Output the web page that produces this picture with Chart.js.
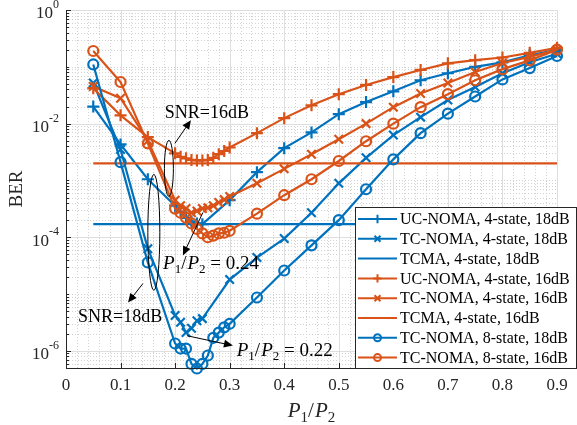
<!DOCTYPE html>
<html>
<head>
<meta charset="utf-8">
<script src="https://cdn.jsdelivr.net/npm/chart.js@4.4.1/dist/chart.umd.min.js"></script>
<style>
html, body { margin: 0; padding: 0; background: #fff; }
</style>
</head>
<body>
<canvas id="berChart" width="577" height="425"></canvas>
<script>
// P1/P2 sample positions
var pUC18 = [0.05, 0.1, 0.15, 0.2, 0.21, 0.22, 0.23, 0.24, 0.25, 0.3, 0.35, 0.4, 0.45, 0.5, 0.55, 0.6, 0.65, 0.7, 0.75, 0.8, 0.85, 0.9];
var pFine = [0.05, 0.1, 0.15, 0.2, 0.21, 0.22, 0.23, 0.24, 0.25, 0.26, 0.27, 0.28, 0.29, 0.3, 0.35, 0.4, 0.45, 0.5, 0.55, 0.6, 0.65, 0.7, 0.75, 0.8, 0.85, 0.9];
var pTCMA = [0.05, 0.9];

// BER values
var berUC18 = [2.0e-2, 4.3e-3, 1.05e-3, 3.6e-4, 2.8e-4, 2.2e-4, 1.9e-4, 1.75e-4, 1.7e-4, 4.5e-4, 1.4e-3, 3.7e-3, 7.0e-3, 1.47e-2, 2.4e-2, 3.7e-2, 5.8e-2, 7.7e-2, 0.1, 0.12, 0.16, 0.2];
var berTC18 = [5.2e-2, 3.5e-3, 6.3e-5, 4.2e-6, 3.2e-6, 2.1e-6, 2.5e-6, 3.4e-6, 3.7e-6, 1.8e-5, 4.4e-5, 9.5e-5, 2.7e-4, 8.9e-4, 2.5e-3, 6.3e-3, 1.3e-2, 2.6e-2, 4.4e-2, 7.7e-2, 0.12, 0.17];
var berTCMA18 = [1.7e-4, 1.7e-4];
var berUC16 = [4.2e-2, 1.4e-2, 5.8e-3, 3.0e-3, 2.6e-3, 2.45e-3, 2.3e-3, 2.25e-3, 2.25e-3, 2.3e-3, 2.5e-3, 2.9e-3, 3.3e-3, 3.8e-3, 6.8e-3, 1.25e-2, 2.1e-2, 3.3e-2, 4.8e-2, 6.6e-2, 8.8e-2, 0.115, 0.131, 0.146, 0.176, 0.216];
var berTC16 = [4.5e-2, 2.8e-2, 5.0e-3, 4.5e-4, 3.6e-4, 3.2e-4, 2.7e-4, 2.9e-4, 3.2e-4, 3.3e-4, 3.6e-4, 4.1e-4, 4.6e-4, 5.2e-4, 8.9e-4, 1.6e-3, 2.9e-3, 5.3e-3, 1.0e-2, 1.95e-2, 3.4e-2, 5.2e-2, 8.1e-2, 0.117, 0.15, 0.2];
var berTCMA16 = [2.0e-3, 2.0e-3];
var berTC8s18 = [0.11, 2.1e-3, 3.6e-5, 1.35e-6, 1.1e-6, 1.1e-6, 5.9e-7, 4.9e-7, 5.9e-7, 8.3e-7, 1.7e-6, 2.1e-6, 2.6e-6, 3.0e-6, 8.7e-6, 2.6e-5, 7.2e-5, 2.0e-4, 7.0e-4, 2.35e-3, 6.8e-3, 1.5e-2, 3.0e-2, 6.0e-2, 9.5e-2, 0.155];
var berTC8s16 = [0.19, 5.4e-2, 4.5e-3, 3.2e-4, 2.7e-4, 2.2e-4, 1.75e-4, 1.4e-4, 1.17e-4, 1.0e-4, 1.07e-4, 1.17e-4, 1.2e-4, 1.3e-4, 2.6e-4, 5.5e-4, 1.05e-3, 2.2e-3, 4.9e-3, 1.0e-2, 1.95e-2, 3.3e-2, 5.8e-2, 9.1e-2, 0.13, 0.2];

var xTicks = [0, 0.1, 0.2, 0.3, 0.4, 0.5, 0.6, 0.7, 0.8, 0.9];
var yTickExps = [0, -2, -4, -6];

var BLUE = '#0072BD';
var ORANGE = '#D95319';
var SERIF = '"Liberation Serif", "Times New Roman", serif';
var INK = '#262626';

var series = [
    { label: 'UC-NOMA, 4-state, 18dB', xs: pUC18, ys: berUC18, color: BLUE, marker: 'cross', r: 6 },
    { label: 'TC-NOMA, 4-state, 18dB', xs: pUC18, ys: berTC18, color: BLUE, marker: 'crossRot', r: 6 },
    { label: 'TCMA, 4-state, 18dB', xs: pTCMA, ys: berTCMA18, color: BLUE, marker: null, r: 0 },
    { label: 'UC-NOMA, 4-state, 16dB', xs: pFine, ys: berUC16, color: ORANGE, marker: 'cross', r: 6 },
    { label: 'TC-NOMA, 4-state, 16dB', xs: pFine, ys: berTC16, color: ORANGE, marker: 'crossRot', r: 6 },
    { label: 'TCMA, 4-state, 16dB', xs: pTCMA, ys: berTCMA16, color: ORANGE, marker: null, r: 0 },
    { label: 'TC-NOMA, 8-state, 18dB', xs: pFine, ys: berTC8s18, color: BLUE, marker: 'circle', r: 5 },
    { label: 'TC-NOMA, 8-state, 16dB', xs: pFine, ys: berTC8s16, color: ORANGE, marker: 'circle', r: 5 }
];

function drawMarker(ctx, style, x, y, r, color) {
    if (!style) return;
    ctx.save();
    ctx.strokeStyle = color;
    ctx.lineWidth = 2;
    ctx.beginPath();
    if (style === 'cross') {
        ctx.moveTo(x - r, y); ctx.lineTo(x + r, y);
        ctx.moveTo(x, y - r); ctx.lineTo(x, y + r);
    } else if (style === 'crossRot') {
        var d = r * 0.7071;
        ctx.moveTo(x - d, y - d); ctx.lineTo(x + d, y + d);
        ctx.moveTo(x - d, y + d); ctx.lineTo(x + d, y - d);
    } else {
        ctx.arc(x, y, r, 0, Math.PI * 2);
    }
    ctx.stroke();
    ctx.restore();
}

function arrow(ctx, x1, y1, x2, y2) {
    var ang = Math.atan2(y2 - y1, x2 - x1);
    var len = 9, w = 4;
    ctx.beginPath();
    ctx.moveTo(x1, y1);
    ctx.lineTo(x2 - Math.cos(ang) * len * 0.8, y2 - Math.sin(ang) * len * 0.8);
    ctx.stroke();
    ctx.beginPath();
    ctx.moveTo(x2, y2);
    ctx.lineTo(x2 - Math.cos(ang) * len - Math.sin(ang) * w, y2 - Math.sin(ang) * len + Math.cos(ang) * w);
    ctx.lineTo(x2 - Math.cos(ang) * len + Math.sin(ang) * w, y2 - Math.sin(ang) * len - Math.cos(ang) * w);
    ctx.closePath();
    ctx.fill();
}

// "P1/P2" with subscripts, optional tail text; returns width
function ratioText(ctx, x, yMid, size, tail, doDraw) {
    var subSize = Math.round(size * 0.7);
    var base = yMid + size * 0.33;
    var parts = [
        ['italic ' + size + 'px ' + SERIF, 'P', 0],
        [subSize + 'px ' + SERIF, '1', size * 0.22],
        [size + 'px ' + SERIF, '/', 0],
        ['italic ' + size + 'px ' + SERIF, 'P', 0],
        [subSize + 'px ' + SERIF, '2', size * 0.22]
    ];
    if (tail) parts.push([size + 'px ' + SERIF, tail, 0]);
    var cx = x;
    ctx.textAlign = 'left';
    ctx.textBaseline = 'alphabetic';
    parts.forEach(function(p) {
        ctx.font = p[0];
        if (doDraw) ctx.fillText(p[1], cx, base + p[2]);
        cx += ctx.measureText(p[1]).width + (p[1] === '/' ? 1 : 0);
    });
    return cx - x;
}

var gridPlugin = {
    id: 'matlabGrid',
    beforeDatasetsDraw: function(chart) {
        var ctx = chart.ctx, a = chart.chartArea, xs = chart.scales.x, ys = chart.scales.y;
        ctx.save();
        ctx.lineWidth = 1;
        // minor dotted grid
        ctx.strokeStyle = '#d2d2d2';
        ctx.setLineDash([1, 2]);
        ctx.beginPath();
        for (var i = 1; i < 45; i++) {
            if (i % 5 === 0) continue;
            var px = Math.round(xs.getPixelForValue(i * 0.02)) + 0.5;
            ctx.moveTo(px, a.top); ctx.lineTo(px, a.bottom);
        }
        for (var e = -7; e < 0; e++) {
            for (var m = 1; m <= 9; m++) {
                if (m === 1 && (-e) % 2 === 0) continue;
                var v = m * Math.pow(10, e);
                if (v < ys.min || v > ys.max) continue;
                var py = Math.round(ys.getPixelForValue(v)) + 0.5;
                ctx.moveTo(a.left, py); ctx.lineTo(a.right, py);
            }
        }
        ctx.stroke();
        // major solid grid
        ctx.setLineDash([]);
        ctx.strokeStyle = '#dedede';
        ctx.beginPath();
        xTicks.forEach(function(v) {
            var px = Math.round(xs.getPixelForValue(v)) + 0.5;
            ctx.moveTo(px, a.top); ctx.lineTo(px, a.bottom);
        });
        yTickExps.forEach(function(e) {
            var py = Math.round(ys.getPixelForValue(Math.pow(10, e))) + 0.5;
            ctx.moveTo(a.left, py); ctx.lineTo(a.right, py);
        });
        ctx.stroke();
        ctx.restore();
    },
    afterDraw: function(chart) {
        var ctx = chart.ctx, a = chart.chartArea, xs = chart.scales.x, ys = chart.scales.y;
        ctx.save();
        // axes
        ctx.strokeStyle = INK;
        ctx.lineWidth = 1;
        ctx.beginPath();
        ctx.moveTo(a.left + 0.5, a.top);
        ctx.lineTo(a.left + 0.5, a.bottom + 0.5);
        ctx.lineTo(a.right, a.bottom + 0.5);
        xTicks.forEach(function(v) {
            var px = Math.round(xs.getPixelForValue(v)) + 0.5;
            ctx.moveTo(px, a.bottom); ctx.lineTo(px, a.bottom - 5);
        });
        for (var e = -7; e <= 0; e++) {
            for (var m = 1; m <= 9; m++) {
                var v = m * Math.pow(10, e);
                if (v < ys.min || v > ys.max) continue;
                var major = (m === 1 && (-e) % 2 === 0);
                var py = Math.round(ys.getPixelForValue(v)) + 0.5;
                ctx.moveTo(a.left, py); ctx.lineTo(a.left + (major ? 5 : 3), py);
            }
        }
        ctx.stroke();

        // tick labels
        ctx.fillStyle = INK;
        ctx.font = '17px ' + SERIF;
        ctx.textAlign = 'center';
        ctx.textBaseline = 'middle';
        xTicks.forEach(function(v) {
            ctx.fillText(v === 0 ? '0' : v.toFixed(1), xs.getPixelForValue(v), a.bottom + 18);
        });
        yTickExps.forEach(function(e) {
            var py = ys.getPixelForValue(Math.pow(10, e));
            ctx.font = '12px ' + SERIF;
            ctx.textAlign = 'right';
            ctx.textBaseline = 'middle';
            var sup = String(e);
            var supW = ctx.measureText(sup).width;
            ctx.fillText(sup, a.left - 7, py - 5);
            ctx.font = '17px ' + SERIF;
            ctx.fillText('10', a.left - 7 - supW, py + 4);
        });

        // axis titles
        var mid = (a.left + a.right) / 2;
        var w = ratioText(ctx, 0, 0, 21, null, false);
        ratioText(ctx, mid - w / 2, a.bottom + 42, 21, null, true);
        ctx.save();
        ctx.translate(17, (a.top + a.bottom) / 2);
        ctx.rotate(-Math.PI / 2);
        ctx.font = '19px ' + SERIF;
        ctx.textAlign = 'center';
        ctx.textBaseline = 'middle';
        ctx.fillText('BER', 0, 0);
        ctx.restore();

        // annotations (anchored in data units)
        function P(x, y) { return [xs.getPixelForValue(x), ys.getPixelForValue(y)]; }
        ctx.strokeStyle = '#000';
        ctx.fillStyle = '#000';
        ctx.lineWidth = 1;
        var c16 = P(0.1886, 1.63e-3);
        ctx.beginPath(); ctx.ellipse(c16[0], c16[1], 4.5, 28, 0, 0, Math.PI * 2); ctx.stroke();
        var c18 = P(0.161, 1.22e-4);
        ctx.beginPath(); ctx.ellipse(c18[0], c18[1], 6, 58, 0, 0, Math.PI * 2); ctx.stroke();
        var t, h;
        t = P(0.1996, 4.5e-3); h = P(0.229, 1.15e-2); arrow(ctx, t[0], t[1], h[0], h[1]);
        t = P(0.141, 1.53e-5); h = P(0.1136, 7.1e-6); arrow(ctx, t[0], t[1], h[0], h[1]);
        t = P(0.251, 2.74e-4); h = P(0.2143, 4.8e-5); arrow(ctx, t[0], t[1], h[0], h[1]);
        t = P(0.2216, 1.85e-6); h = P(0.306, 1.24e-6); arrow(ctx, t[0], t[1], h[0], h[1]);

        ctx.font = '18px ' + SERIF;
        ctx.textAlign = 'left';
        ctx.textBaseline = 'middle';
        var s16 = P(0.181, 1.52e-2);
        ctx.fillText('SNR=16dB', s16[0], s16[1]);
        var s18 = P(0.022, 3.85e-6);
        ctx.fillText('SNR=18dB', s18[0], s18[1]);
        var r24 = P(0.178, 3.6e-5);
        ratioText(ctx, r24[0], r24[1], 19, ' = 0.24', true);
        var r22 = P(0.313, 1.05e-6);
        ratioText(ctx, r22[0], r22[1], 19, ' = 0.22', true);

        // legend box
        var lx = 355, ly = 207, lw = 221, lh = a.bottom - 207;
        ctx.fillStyle = '#fff';
        ctx.fillRect(lx, ly, lw, lh);
        ctx.strokeStyle = INK;
        ctx.strokeRect(lx + 0.5, ly + 0.5, lw, lh);
        ctx.font = '16px ' + SERIF;
        ctx.textAlign = 'left';
        ctx.textBaseline = 'middle';
        series.forEach(function(s, i) {
            var yy = ly + 12 + i * 19.8;
            ctx.strokeStyle = s.color;
            ctx.lineWidth = 2;
            ctx.beginPath(); ctx.moveTo(358, yy); ctx.lineTo(397, yy); ctx.stroke();
            drawMarker(ctx, s.marker, 377.5, yy, s.r * 0.7, s.color);
            ctx.fillStyle = '#000';
            ctx.fillText(s.label, 400, yy + 1);
        });
        ctx.restore();
    }
};

var datasets = series.map(function(s, i) {
    return {
        label: s.label,
        data: s.xs.map(function(x, k) { return { x: x, y: s.ys[k] }; }),
        borderColor: s.color,
        backgroundColor: 'rgba(0,0,0,0)',
        borderWidth: 2.2,
        tension: 0,
        pointStyle: s.marker || 'circle',
        pointRadius: s.r,
        pointBorderWidth: 2.2,
        pointBorderColor: s.color,
        pointBackgroundColor: 'rgba(0,0,0,0)',
        clip: false,
        order: series.length - i
    };
});

new Chart(document.getElementById('berChart'), {
    type: 'line',
    data: { datasets: datasets },
    options: {
        responsive: false,
        animation: false,
        devicePixelRatio: 1,
        layout: { padding: { left: 66, right: 20, top: 10, bottom: 57 } },
        plugins: { legend: { display: false }, tooltip: { enabled: false } },
        scales: {
            x: { type: 'linear', min: 0, max: 0.9, bounds: 'data', display: false },
            y: { type: 'logarithmic', min: 5e-7, max: 1, bounds: 'data', display: false }
        }
    },
    plugins: [gridPlugin]
});
</script>
</body>
</html>
